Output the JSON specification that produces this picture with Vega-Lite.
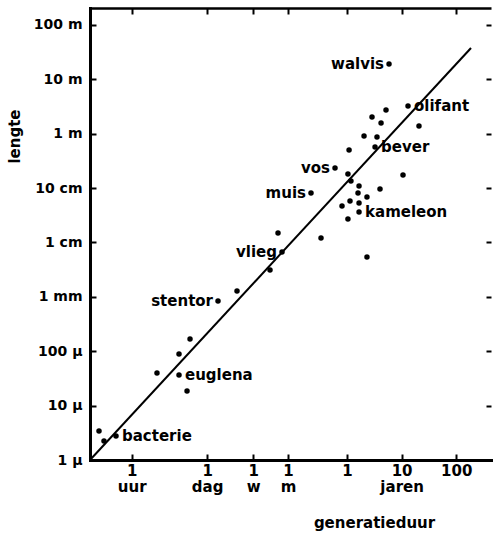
{
  "$schema": "https://vega.github.io/schema/vega-lite/v6.json",
  "width": 401,
  "height": 452,
  "autosize": {"type": "none"},
  "padding": {"left": 90, "top": 8, "right": 3, "bottom": 73},
  "background": "white",
  "config": {
    "view": {"stroke": null},
    "font": "DejaVu Sans",
    "axis": {
      "labelFont": "DejaVu Sans",
      "labelFontWeight": "bold",
      "labelFontSize": 14,
      "labelColor": "black",
      "titleFont": "DejaVu Sans",
      "titleFontWeight": "bold",
      "titleFontSize": 15,
      "titleColor": "black",
      "domainColor": "black",
      "tickColor": "black",
      "grid": false,
      "labelFlush": false,
      "labelOverlap": false
    }
  },
  "datasets": {
    "points": [
      {"t": 5.88, "l": 19.0, "name": "walvis"},
      {"t": 13.1, "l": 3.21, "name": "olifant"},
      {"t": 5.18, "l": 2.72, "name": ""},
      {"t": 2.87, "l": 2.02, "name": ""},
      {"t": 4.20, "l": 1.57, "name": ""},
      {"t": 20.8, "l": 1.38, "name": ""},
      {"t": 2.05, "l": 0.904, "name": ""},
      {"t": 3.54, "l": 0.867, "name": ""},
      {"t": 3.26, "l": 0.568, "name": "bever"},
      {"t": 1.09, "l": 0.500, "name": ""},
      {"t": 0.603, "l": 0.233, "name": "vos"},
      {"t": 1.04, "l": 0.181, "name": ""},
      {"t": 10.6, "l": 0.173, "name": ""},
      {"t": 1.18, "l": 0.135, "name": ""},
      {"t": 1.66, "l": 0.109, "name": ""},
      {"t": 0.219, "l": 0.0809, "name": "muis"},
      {"t": 4.02, "l": 0.0960, "name": ""},
      {"t": 1.59, "l": 0.0809, "name": ""},
      {"t": 2.32, "l": 0.0684, "name": ""},
      {"t": 1.135, "l": 0.0577, "name": ""},
      {"t": 1.66, "l": 0.0530, "name": ""},
      {"t": 0.810, "l": 0.0467, "name": ""},
      {"t": 1.66, "l": 0.0362, "name": "kameleon"},
      {"t": 1.04, "l": 0.0269, "name": ""},
      {"t": 0.334, "l": 0.01205, "name": ""},
      {"t": 2.32, "l": 0.00540, "name": ""},
      {"t": 0.0545, "l": 0.01490, "name": ""},
      {"t": 0.0645, "l": 0.00667, "name": "vlieg"},
      {"t": 0.0389, "l": 0.00311, "name": ""},
      {"t": 0.00967, "l": 0.00128, "name": ""},
      {"t": 0.00434, "l": 0.000838, "name": "stentor"},
      {"t": 0.001333, "l": 0.0001675, "name": ""},
      {"t": 0.000838, "l": 0.0000889, "name": ""},
      {"t": 0.000331, "l": 0.0000397, "name": ""},
      {"t": 0.000838, "l": 0.0000365, "name": "euglena"},
      {"t": 0.001175, "l": 0.00001853, "name": ""},
      {"t": 0.0000287, "l": 0.00000341, "name": ""},
      {"t": 0.0000354, "l": 0.00000223, "name": ""},
      {"t": 0.0000588, "l": 0.00000276, "name": "bacterie"}
    ],
    "trend": [
      {"t": 0.00001963, "l": 0.000001},
      {"t": 186.6, "l": 37.5}
    ]
  },
  "layer": [
    {
      "data": {"name": "points"},
      "mark": {"type": "circle", "size": 30, "color": "black", "opacity": 1},
      "encoding": {
        "x": {
          "field": "t", "type": "quantitative",
          "scale": {"type": "log", "domain": [0.00001963, 433.5], "nice": false},
          "axis": {
            "orient": "bottom",
            "values": [0.000114, 0.002738, 0.019165, 0.083333, 1, 10, 100],
            "labelExpr": "datum.value < 0.001 ? ['1','uur'] : datum.value < 0.01 ? ['1','dag'] : datum.value < 0.05 ? ['1','w'] : datum.value < 0.5 ? ['1','m'] : datum.value < 5 ? '1' : datum.value < 50 ? ['10','jaren'] : '100'",
            "labelFontSize": 15,
            "labelLineHeight": 16,
            "labelBaseline": "top",
            "tickSize": -6,
            "tickWidth": 2,
            "domainWidth": 3,
            "domainCap": "square",
            "labelPadding": 9,
            "title": "generatieduur",
            "titleX": 284,
            "titleY": 62,
            "titleAlign": "center",
            "titleBaseline": "middle"
          }
        },
        "y": {
          "field": "l", "type": "quantitative",
          "scale": {"type": "log", "domain": [0.000001, 203.7], "nice": false},
          "axis": {
            "orient": "left",
            "values": [0.000001, 0.00001, 0.0001, 0.001, 0.01, 0.1, 1, 10, 100],
            "labelExpr": "datum.value < 5e-6 ? '1 µ' : datum.value < 5e-5 ? '10 µ' : datum.value < 5e-4 ? '100 µ' : datum.value < 5e-3 ? '1 mm' : datum.value < 0.05 ? '1 cm' : datum.value < 0.5 ? '10 cm' : datum.value < 5 ? '1 m' : datum.value < 50 ? '10 m' : '100 m'",
            "tickSize": -6,
            "tickWidth": 2,
            "domainWidth": 3,
            "domainCap": "square",
            "labelPadding": 14,
            "title": "lengte",
            "titleAngle": -90,
            "titleX": -76,
            "titleY": 128,
            "titleAlign": "center",
            "titleBaseline": "middle"
          }
        }
      }
    },
    {
      "data": {"name": "trend"},
      "mark": {"type": "line", "color": "black", "strokeWidth": 2},
      "encoding": {
        "x": {
          "field": "t", "type": "quantitative",
          "axis": {
            "orient": "top",
            "values": [0.000114, 0.002738, 0.019165, 0.083333, 1, 10, 100],
            "labels": false,
            "title": null,
            "tickSize": -6,
            "tickWidth": 2,
            "domainWidth": 2.5
          }
        },
        "y": {
          "field": "l", "type": "quantitative",
          "axis": {
            "orient": "right",
            "values": [0.000001, 0.00001, 0.0001, 0.001, 0.01, 0.1, 1, 10, 100],
            "labels": false,
            "title": null,
            "domain": false,
            "tickSize": -5,
            "tickWidth": 2
          }
        }
      }
    },
    {
      "data": {"name": "points"},
      "transform": [{"filter": {"field": "name", "oneOf": ["walvis", "vos", "muis", "vlieg", "stentor"]}}],
      "mark": {"type": "text", "align": "right", "baseline": "middle", "dx": -5, "fontSize": 15, "fontWeight": "bold", "font": "DejaVu Sans", "color": "black"},
      "encoding": {
        "x": {"field": "t", "type": "quantitative", "axis": null},
        "y": {"field": "l", "type": "quantitative", "axis": null},
        "text": {"field": "name"}
      }
    },
    {
      "data": {"name": "points"},
      "transform": [{"filter": {"field": "name", "oneOf": ["olifant", "bever", "kameleon", "euglena", "bacterie"]}}],
      "mark": {"type": "text", "align": "left", "baseline": "middle", "dx": 6, "fontSize": 15, "fontWeight": "bold", "font": "DejaVu Sans", "color": "black"},
      "encoding": {
        "x": {"field": "t", "type": "quantitative", "axis": null},
        "y": {"field": "l", "type": "quantitative", "axis": null},
        "text": {"field": "name"}
      }
    }
  ],
  "resolve": {"axis": {"x": "independent", "y": "independent"}}
}
